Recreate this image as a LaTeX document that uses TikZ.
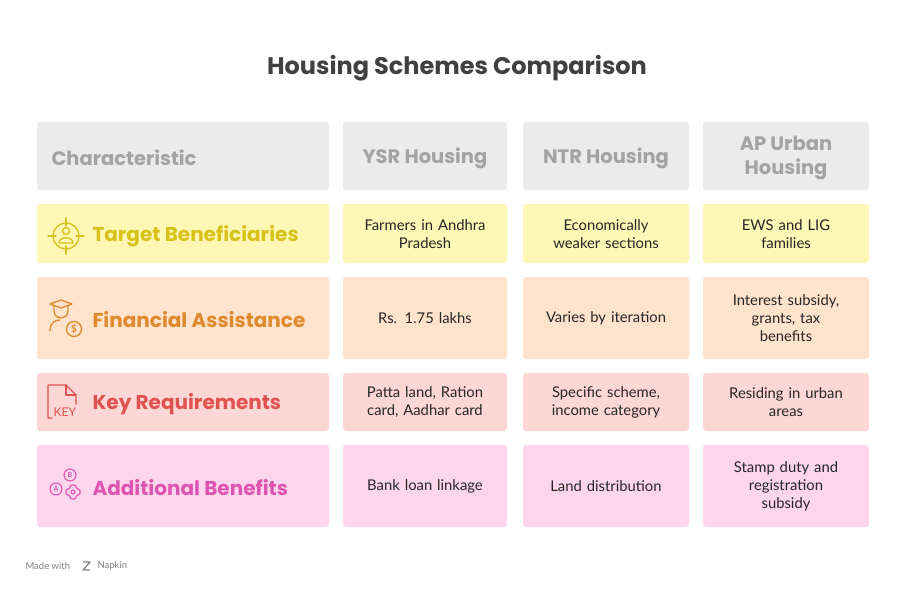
\documentclass[tikz,border=0pt]{standalone}
\usepackage{fontspec}
\setmainfont{Lato}
\newfontfamily\headfont{Poppins}
\definecolor{hdr}{HTML}{EBEBEB}\definecolor{hdrt}{HTML}{A3A3A3}
\definecolor{yf}{HTML}{FEF7B5}\definecolor{yt}{HTML}{D8C21A}
\definecolor{of}{HTML}{FFE3CC}\definecolor{ot}{HTML}{E08A2E}
\definecolor{rf}{HTML}{FDD7D5}\definecolor{rt}{HTML}{E0524F}
\definecolor{pf}{HTML}{FDD6EE}\definecolor{pt}{HTML}{DD55B0}
\definecolor{ttl}{HTML}{404040}
\tikzset{cell/.style={rounded corners=3pt,inner sep=0pt},
 body/.style={font=\fontsize{14.8}{18}\selectfont,text=black!85,align=center,text width=165pt},
 hd/.style={font=\headfont\bfseries\fontsize{19.5}{24}\selectfont,text=hdrt,align=center},
 cat/.style={font=\headfont\bfseries\fontsize{20}{24}\selectfont,anchor=west},
 ic/.style={line width=1.3pt,line cap=round,line join=round}}
\begin{document}
\begin{tikzpicture}[x=1pt,y=-1pt]
\useasboundingbox[fill=white] (0,0) rectangle (914,594);
\node[font=\headfont\bfseries\fontsize{24}{28}\selectfont,text=ttl] (title) at (457,68) {Housing Schemes Comparison};
% header
\fill[hdr,cell] (37,122) rectangle (329,190);
\fill[hdr,cell] (343,122) rectangle (507,190);
\fill[hdr,cell] (523,122) rectangle (689,190);
\fill[hdr,cell] (703,122) rectangle (869,190);
\node[hd,anchor=west] (h1) at (48,158) {Characteristic};
\node[hd] (h2) at (425,158) {YSR Housing};
\node[hd] (h3) at (606,158) {NTR Housing};
\node[hd] (h4) at (786,158) {AP Urban\\Housing};
% rows
\foreach \f/\ya/\yb in {yf/204/263,of/277/359,rf/373/431,pf/445/527}{
 \fill[\f,cell] (37,\ya) rectangle (329,\yb);
 \fill[\f,cell] (343,\ya) rectangle (507,\yb);
 \fill[\f,cell] (523,\ya) rectangle (689,\yb);
 \fill[\f,cell] (703,\ya) rectangle (869,\yb);}
\node[cat,text=yt] (c1) at (89,236) {Target Beneficiaries};
\node[cat,text=ot] (c2) at (89,320) {Financial Assistance};
\node[cat,text=rt] (c3) at (89,404) {Key Requirements};
\node[cat,text=pt] (c4) at (89,488) {Additional Benefits};
\node[body] (a1) at (425,234) {Farmers in Andhra\\Pradesh};
\node[body] (b1) at (606,234) {Economically\\weaker sections};
\node[body] (d1) at (786,234) {EWS and LIG\\families};
\node[body] (a2) at (425,318) {Rs. 1.75 lakhs};
\node[body] (b2) at (606,318) {Varies by iteration};
\node[body] (d2) at (786,318) {Interest subsidy,\\grants, tax\\benefits};
\node[body] (a3) at (425,402) {Patta land, Ration\\card, Aadhar card};
\node[body] (b3) at (606,402) {Specific scheme,\\income category};
\node[body] (d3) at (786,402) {Residing in urban\\areas};
\node[body] (a4) at (425,486) {Bank loan linkage};
\node[body] (b4) at (606,486) {Land distribution};
\node[body] (d4) at (786,486) {Stamp duty and\\registration\\subsidy};
% icons
\begin{scope}[ic,draw=yt]
 \draw (66,236) circle (13);
 \draw (48,236)--(56,236) (76,236)--(84,236) (66,218)--(66,226) (66,246)--(66,254);
 \draw (66,231) circle (3.5);
 \draw (59,243) .. controls (59,236) and (73,236) .. (73,243) -- cycle;
\end{scope}
\begin{scope}[ic,draw=ot]
 \draw (50,304)--(61,300)--(72,304)--(61,308)--cycle;
 \draw (54,306)--(54,311) .. controls (54,320) and (68,320) .. (68,311)--(68,306);
 \draw (50,331) .. controls (50,322) and (56,320) .. (60,320);
 \draw (74,329) circle (7.5);
 \node[ot,font=\fontsize{10}{10}\selectfont\bfseries,inner sep=0] (dol) at (74,329) {\$};
\end{scope}
\begin{scope}[ic,draw=rt]
 \draw (52,418)--(48,418)--(48,385)--(66,385)--(76,395)--(76,404);
 \draw (66,385)--(66,395)--(76,395);
 \node[rt,font=\fontsize{12}{12}\selectfont,inner sep=0,anchor=west] (key) at (53,412) {KEY};
\end{scope}
\begin{scope}[ic,draw=pt,line width=1.1pt]
 \draw (56,489) circle (6); \node[pt,font=\fontsize{7}{7}\selectfont\bfseries,inner sep=0] (ia) at (56,489) {A};
 \draw (70,475) circle (6); \node[pt,font=\fontsize{7}{7}\selectfont\bfseries,inner sep=0] (ib) at (70,475) {B};
 \draw[rounded corners=1.5pt] (70,485)--(76,485)--(76,489)--(80,489)--(80,495)--(76,495)--(76,499)--(70,499)--(70,495)--(66,495)--(66,489)--(70,489)--cycle;
 \draw (73,492) circle (2);
\end{scope}
\node[font=\fontsize{9.5}{11}\selectfont,text=black!50,anchor=west] (foot) at (22,566) {Made with};
\node[font=\fontsize{9.5}{11}\selectfont,text=black!50,anchor=west] (nap) at (94,566) {Napkin};
\draw[black!50,line width=1.2pt,line join=round] (83,562)--(90,562)--(83,570)--(90,570);
\end{tikzpicture}
\end{document}
